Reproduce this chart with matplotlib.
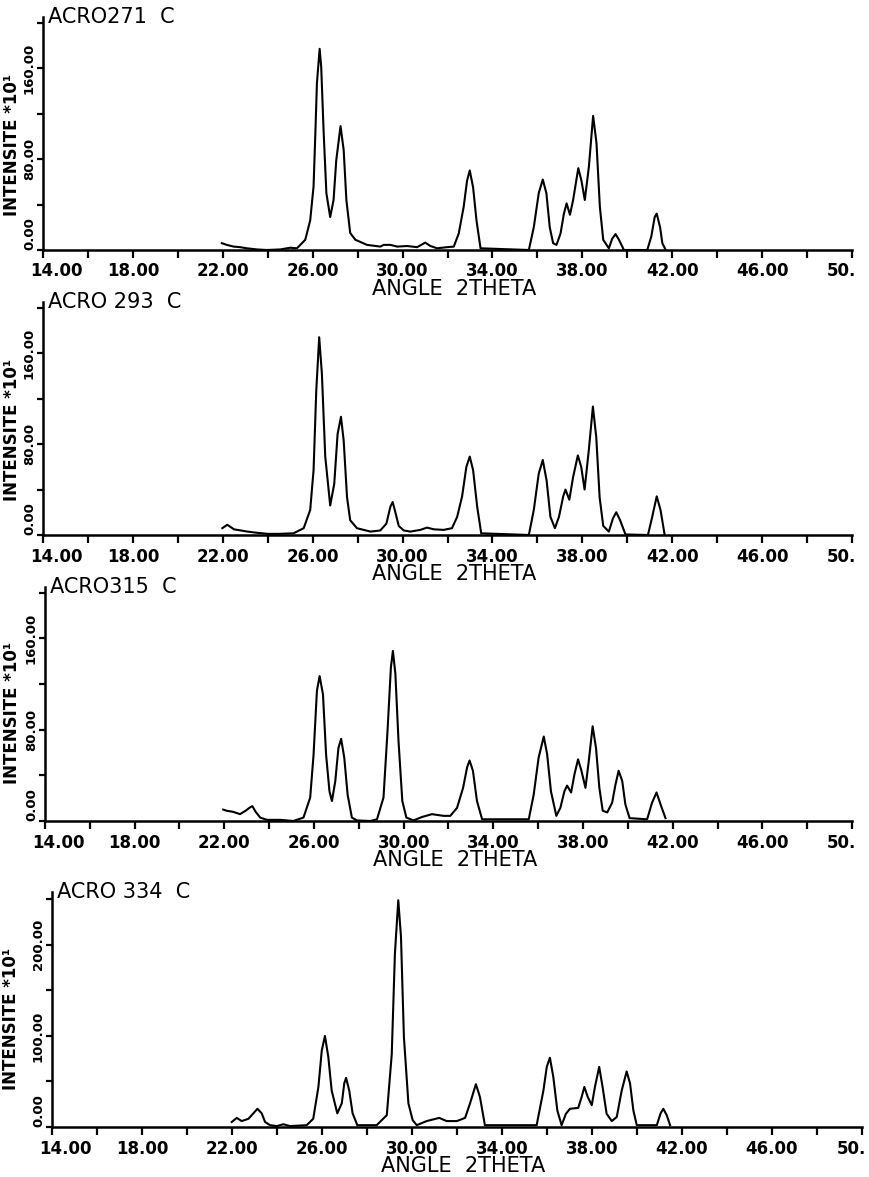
import numpy as np
import matplotlib.pyplot as plt
from matplotlib.transforms import ScaledTranslation

plt.rcParams.update({
    "font.family": "DejaVu Sans",
    "axes.linewidth": 1.8,
    "xtick.major.width": 1.6,
    "ytick.major.width": 1.6,
})

# Diffractograms traced as (2theta, intensity x10) points
TT_271 = [21.96, 22.18, 22.48, 22.77, 23.07, 23.52, 23.96, 24.56, 25.0, 25.30,
          25.67, 25.89, 26.04, 26.12, 26.19, 26.31, 26.38, 26.49, 26.61, 26.78,
          26.93, 27.05, 27.24, 27.38, 27.50, 27.67, 27.90, 28.42, 29.01, 29.16,
          29.46, 29.76, 30.20, 30.65, 31.01, 31.24, 31.54, 31.98, 32.28, 32.50,
          32.72, 32.87, 32.99, 33.14, 33.29, 33.47, 35.62, 35.84, 36.06, 36.24,
          36.40, 36.55, 36.70, 36.85, 37.03, 37.18, 37.30, 37.45, 37.59, 37.82,
          37.96, 38.11, 38.29, 38.48, 38.63, 38.78, 38.93, 39.18, 39.33, 39.48,
          39.63, 39.85, 40.89, 41.07, 41.22, 41.31, 41.46, 41.56, 41.71]
I_271 = [6, 4.5, 3, 2.5, 1.5, 0.5, 0, 0.5, 2, 1.5,
         9, 26, 56, 103, 147, 177, 161, 103, 50, 29,
         44, 79, 109, 88, 44, 15, 9, 4.5, 3, 4.5,
         4.5, 3, 3.5, 2.5, 6.5, 3.5, 1.5, 2.5, 3, 14.5,
         38, 61, 70, 55, 26, 1.5, 0, 20, 50, 62,
         50, 20, 6, 4.5, 14.5, 32, 41, 31, 44, 72,
         61, 44, 73, 118, 94, 38, 9, 1.5, 10, 14,
         9, 0, 0, 12, 29, 32, 20, 6, 0]

TT_293 = [21.98, 22.2, 22.5, 22.8, 23.1, 23.5, 24.0, 24.5, 25.15, 25.6,
          25.89, 26.04, 26.16, 26.29, 26.41, 26.56, 26.78, 26.96, 27.11, 27.26,
          27.38, 27.53, 27.67, 27.97, 28.57, 29.01, 29.28, 29.46, 29.56, 29.68,
          29.83, 30.05, 30.35, 30.79, 31.09, 31.39, 31.83, 32.2, 32.43, 32.65,
          32.84, 32.99, 33.14, 33.32, 33.5, 35.62, 35.84, 36.06, 36.24, 36.41,
          36.58, 36.78, 36.96, 37.15, 37.25, 37.42, 37.59, 37.8, 37.95, 38.1,
          38.29, 38.47, 38.62, 38.77, 38.93, 39.18, 39.36, 39.51, 39.67, 39.92,
          40.92, 41.11, 41.31, 41.48, 41.66]
I_293 = [6, 9, 5, 4, 3, 2, 1, 1, 1.5, 6,
         22, 57, 127, 174, 142, 69, 26, 45, 89, 104,
         83, 33, 13, 6, 3, 4, 10, 25, 29, 20,
         8, 4, 3, 4.5, 6.5, 5, 4.5, 6, 16, 34,
         60, 69, 57, 25, 1.5, 0, 22, 54, 66, 48,
         16, 6, 16, 34, 40, 31, 51, 70, 60, 40,
         75, 113, 86, 33, 8, 3, 14.5, 20, 13.5, 0.5,
         0, 16, 34, 22, 0.5]

TT_315 = [21.95, 22.1, 22.4, 22.7, 22.95, 23.15, 23.25, 23.4, 23.6, 23.9,
          24.5, 25.08, 25.53, 25.83, 25.98, 26.13, 26.25, 26.4, 26.54, 26.69,
          26.8, 26.95, 27.09, 27.21, 27.35, 27.5, 27.69, 27.92, 28.51, 28.81,
          29.1, 29.28, 29.43, 29.52, 29.63, 29.77, 29.94, 30.12, 30.44, 30.82,
          31.26, 31.78, 32.08, 32.38, 32.65, 32.83, 32.94, 33.09, 33.27, 33.5,
          35.58, 35.8, 36.02, 36.25, 36.4, 36.57, 36.81, 36.99, 37.17, 37.29,
          37.47, 37.62, 37.78, 37.93, 38.11, 38.26, 38.43, 38.58, 38.73, 38.88,
          39.08, 39.3, 39.45, 39.59, 39.75, 39.89, 40.08,
          40.86, 41.08, 41.28, 41.46, 41.68]
I_315 = [10, 9, 8, 6, 9, 12, 13, 8, 3, 1,
         1, 0, 3, 20.5, 58, 114, 127, 111, 58, 26,
         17.5, 35, 64, 72, 55.5, 23, 3, 0.5, 0, 1.5,
         20.5, 79, 134.5, 149, 129, 70, 17.5, 3, 0.5, 3.5,
         6, 4.5, 4.5, 11.5, 29, 47, 53, 44, 17.5, 1.5,
         1.5, 23, 55.5, 74, 58.5, 26, 4.5, 11.5, 26, 31,
         25, 41, 54, 44, 29, 53, 83, 64, 29, 9,
         7.5, 16, 32, 44, 35, 14.5, 2.5,
         1.5, 16, 25, 14.5, 2.5]

TT_334 = [21.99, 22.21, 22.43, 22.73, 22.95, 23.13, 23.32, 23.47, 23.69, 23.99,
          24.28, 24.58, 25.32, 25.61, 25.84, 25.99, 26.13, 26.28, 26.43, 26.68,
          26.88, 26.99, 27.07, 27.21, 27.36, 27.57, 28.43, 28.88, 29.1, 29.24,
          29.39, 29.51, 29.64, 29.84, 30.03, 30.21, 30.65, 31.21, 31.54, 31.99,
          32.36, 32.58, 32.84, 33.02, 33.24, 35.54, 35.84, 35.99, 36.13, 36.28,
          36.46, 36.65, 36.84, 37.02, 37.39, 37.54, 37.66, 37.81, 37.99, 38.13,
          38.32, 38.47, 38.65, 38.88, 39.1, 39.32, 39.54, 39.69, 39.84, 39.99,
          40.88, 41.05, 41.17, 41.32, 41.47]
I_334 = [5.5, 10, 6.5, 9, 15, 20, 15, 5.5, 2, 1,
         3, 1, 2, 9, 44, 84, 100, 77, 40, 15,
         26, 48, 54, 40, 15, 2, 2, 13, 80, 190,
         249, 209, 99, 26, 7.5, 2, 6.5, 10, 6.5, 6.5,
         10, 26, 47, 33, 2, 2, 40, 66, 76, 55,
         18, 2, 14.5, 20, 21, 33, 44, 33, 24, 44,
         66, 44, 14.5, 6.5, 11, 40, 61, 48, 18, 2,
         2, 15, 20, 13, 2]

W, H = 869, 1177
fig = plt.figure(figsize=(W / 100, H / 100), dpi=100)


def px_axes(left, right, bottom, top):
    # axes box given in pixel coordinates measured from the top-left corner
    return fig.add_axes([left / W, 1 - bottom / H,
                         (right - left) / W, (bottom - top) / H])


def draw_panel(ax, tt, inten, name, ymax, ystep, ylab_at):
    ax.plot(tt, inten, color="black", lw=1.5, solid_joinstyle="round")
    ax.set_xlim(14, 50)
    ax.set_ylim(0, ymax)
    ax.spines["top"].set_visible(False)
    ax.spines["right"].set_visible(False)

    xt = np.arange(14, 51, 2)
    xl = ["%.2f" % v if (v - 14) % 4 == 0 else "" for v in xt]
    xl[-1] = "50."
    ax.set_xticks(xt)
    ax.set_xticklabels(xl, fontsize=12, fontweight="bold")
    ax.tick_params(axis="x", direction="out", length=6, pad=3)
    labs = ax.get_xticklabels()
    labs[0].set_transform(labs[0].get_transform() +
                          ScaledTranslation(0.13, 0, fig.dpi_scale_trans))
    labs[-1].set_transform(labs[-1].get_transform() +
                           ScaledTranslation(-0.11, 0, fig.dpi_scale_trans))

    yt = np.arange(0, ymax, ystep)
    yl = ["%.2f" % v if v in ylab_at else "" for v in yt]
    ax.set_yticks(yt)
    ax.set_yticklabels(yl, fontsize=9.5, fontweight="bold",
                       rotation=90, va="center")
    ax.get_yticklabels()[0].set_va("bottom")
    ax.tick_params(axis="y", direction="out", length=4, pad=1)

    ax.set_ylabel("INTENSITE *10¹", fontsize=12, fontweight="bold")
    ax.set_xlabel("ANGLE  2THETA", fontsize=15)
    ax.xaxis.set_label_coords(0.508, -0.125)
    ax.text(0.006, 1.0, name, transform=ax.transAxes, fontsize=15,
            ha="left", va="center")


ax1 = px_axes(43, 852, 250, 17)
draw_panel(ax1, TT_271, I_271, "ACRO271  C", 205, 40, (0, 80, 160))
ax1.yaxis.set_label_coords(-0.027, 0.45)

ax2 = px_axes(43, 852, 535, 302)
draw_panel(ax2, TT_293, I_293, "ACRO 293  C", 205, 40, (0, 80, 160))
ax2.yaxis.set_label_coords(-0.027, 0.45)

ax3 = px_axes(45, 852, 821, 587)
draw_panel(ax3, TT_315, I_315, "ACRO315  C", 205, 40, (0, 80, 160))
ax3.yaxis.set_label_coords(-0.03, 0.46)

ax4 = px_axes(52, 862, 1127, 892)
draw_panel(ax4, TT_334, I_334, "ACRO 334  C", 258, 50, (0, 100, 200))
ax4.yaxis.set_label_coords(-0.04, 0.46)

fig.savefig("out.png", dpi=100)
